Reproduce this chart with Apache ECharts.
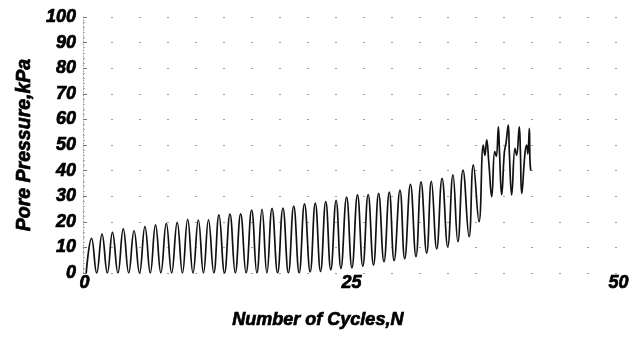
<!DOCTYPE html>
<html>
<head>
<meta charset="utf-8">
<script src="https://cdn.jsdelivr.net/npm/echarts@6/dist/echarts.min.js"></script>
<style>
  html, body { margin: 0; padding: 0; background: #fff; }
  #chart { width: 637px; height: 351px; }
</style>
</head>
<body>
<div id="chart"></div>
<script>
// Pore pressure record over loading cycles (alternating troughs and peaks)
const cycleN = [
  0.30, 0.80, 1.28, 1.78, 2.28, 2.76, 3.27, 3.77, 4.28, 4.78,
  5.29, 5.80, 6.30, 6.79, 7.29, 7.80, 8.30, 8.82, 9.31, 9.80,
  10.30, 10.80, 11.28, 11.75, 12.25, 12.73, 13.25, 13.76, 14.26, 14.76,
  15.27, 15.79, 16.28, 16.76, 17.22, 17.70, 18.22, 18.72, 19.23, 19.73,
  20.24, 20.74, 21.27, 21.75, 22.24, 22.73, 23.20, 23.70, 24.15, 24.68,
  25.18, 25.70, 26.20, 26.70, 27.20, 27.68, 28.18, 28.68, 29.13, 29.68,
  30.12, 30.66, 31.18, 31.65, 32.18, 32.62, 33.12, 33.62, 34.15, 34.64,
  35.10, 35.58, 36.15, 36.55, 37.08, 37.48, 37.63, 37.80, 38.00, 38.27,
  38.55, 38.70, 38.89, 39.00, 39.20, 39.45, 39.60, 39.82, 39.92, 40.14,
  40.45, 40.60, 40.85, 40.95, 41.08, 41.39, 41.55, 41.65, 41.79, 41.85,
  41.92
];
const porePressureKPa = [
  0, 13.5, 0, 15.2, 0, 15.9, 0, 17.2, 0, 16.5,
  0, 18.1, 0, 18.8, 0, 19.4, 0, 19.8, 0, 21.0,
  0, 20.7, 0, 20.8, 0, 22.7, 0, 23.0, 0, 23.1,
  0, 24.6, 0, 24.9, 0, 25.3, 0, 25.4, 0, 26.1,
  0, 27.0, 0.4, 27.3, 0.6, 27.9, 1.2, 28.4, 1.8, 29.6,
  2.0, 30.5, 2.6, 30.6, 3.1, 31.1, 4.4, 31.6, 4.8, 32.4,
  5.6, 34.6, 6.4, 35.6, 7.7, 35.8, 9.4, 37.0, 10.3, 38.3,
  12.2, 40.2, 14.2, 42.2, 20.0, 50.0, 46.0, 52.0, 43.0, 29.8,
  47.5, 45.5, 57.1, 47.0, 30.5, 47.0, 50.5, 57.8, 47.0, 30.5,
  48.7, 46.0, 57.1, 48.0, 31.1, 47.0, 50.0, 46.5, 56.5, 44.0,
  40.0
];
const xTicks = [0, 25, 50];
const yTicks = [0, 10, 20, 30, 40, 50, 60, 70, 80, 90, 100];

const seriesData = cycleN.map((n, i) => [n, porePressureKPa[i]]);

// heavy italic lettering for labels and titles
const heavyText = {
  fontFamily: '"Liberation Sans", Arial, sans-serif',
  fontStyle: 'italic',
  fontWeight: 'bold',
  color: '#000',
  textBorderColor: '#000',
  textBorderWidth: 0.7
};

const chart = echarts.init(document.getElementById('chart'), null, { renderer: 'canvas' });
chart.setOption({
  animation: false,
  backgroundColor: '#fff',
  grid: { left: 83, right: 20, top: 17, bottom: 78, containLabel: false },
  xAxis: {
    type: 'value',
    min: xTicks[0],
    max: xTicks[xTicks.length - 1],
    interval: xTicks[1] - xTicks[0],
    axisLine: { show: false },
    axisTick: { show: false },
    splitLine: { show: false },
    axisLabel: Object.assign({ fontSize: 18, margin: 1, padding: [0, 0, 0, 3] }, heavyText)
  },
  yAxis: {
    type: 'value',
    min: yTicks[0],
    max: yTicks[yTicks.length - 1],
    interval: yTicks[1] - yTicks[0],
    name: 'Pore Pressure,kPa',
    nameLocation: 'middle',
    nameGap: 48,
    nameTextStyle: Object.assign({ fontSize: 19.5 }, heavyText),
    axisLine: { show: true, lineStyle: { color: '#9a9a9a', width: 1, type: [1, 2] } },
    axisTick: { show: true, inside: true, length: 4, lineStyle: { color: '#777' } },
    minorTick: { show: true, splitNumber: 5, length: 2, lineStyle: { color: '#aaa' } },
    splitLine: { show: true, lineStyle: { color: '#a0a0a0', width: 1, type: [2, 26] } },
    axisLabel: Object.assign({ fontSize: 18, margin: 7 }, heavyText)
  },
  graphic: [{
    type: 'text',
    left: 232,
    top: 311,
    style: {
      text: 'Number of Cycles,N',
      fontFamily: '"Liberation Sans", Arial, sans-serif',
      fontStyle: 'italic',
      fontWeight: 'bold',
      fontSize: 18,
      fill: '#000',
      stroke: '#000',
      lineWidth: 0.7
    }
  }],
  series: [{
    type: 'line',
    data: seriesData,
    showSymbol: false,
    smooth: 0.45,
    lineStyle: { color: '#111', width: 1.7 }
  }]
});
</script>
</body>
</html>
